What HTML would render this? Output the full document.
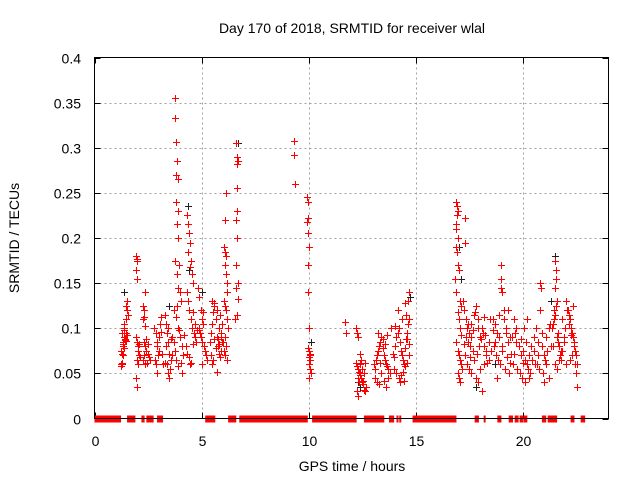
<!DOCTYPE html>
<html><head><meta charset="utf-8"><style>
html,body{margin:0;padding:0;background:#fff;}
svg{display:block;font-family:"Liberation Sans",sans-serif;}
</style></head><body>
<svg id="chart" width="640" height="480" viewBox="0 0 640 480">
<rect width="640" height="480" fill="#fff"/>
<text x="352" y="33" font-size="14" text-anchor="middle" fill="#000">Day 170 of 2018, SRMTID for receiver wlal</text>
<text x="352" y="471" font-size="14" text-anchor="middle" fill="#000">GPS time / hours</text>
<text transform="translate(19,238) rotate(-90)" font-size="14" text-anchor="middle" fill="#000">SRMTID / TECUs</text>
<g id="grid"></g><g id="ticks"></g><g id="zeros"></g><g id="black"></g><g id="red"></g>
<rect x="94.5" y="57.5" width="514" height="361" fill="none" stroke="#000" stroke-width="1"/>
</svg>
<script>
const xTicks=[0,5,10,15,20];
const yTicks=[0,0.05,0.1,0.15,0.2,0.25,0.3,0.35,0.4];
const yTickLabels=["0","0.05","0.1","0.15","0.2","0.25","0.3","0.35","0.4"];
const zeroStarts=[0,1.52,2.19,2.42,2.92,5.17,6.24,6.76,10.16,12.58,13.75,14.1,14.23,14.85,17.75,18.17,18.81,19.34,19.62,19.85,19.93,20.04,20.89,21.16,22.23,22.7];
const zeroEnds=[1.24,1.91,2.34,2.76,3.2,5.64,6.62,9.96,12.24,13.53,13.99,14.13,14.26,16.9,17.95,18.2,19.0,19.54,19.8,19.88,19.96,20.21,21.09,21.6,22.41,22.91];
const redX=[1.22,1.25,1.28,1.3,1.25,1.3,1.33,1.35,1.38,1.4,1.42,1.45,1.3,1.35,1.4,1.45,1.5,1.48,1.52,1.55,1.35,1.4,1.5,1.45,1.38,1.42,
1.95,1.97,2.0,1.96,1.98,2.0,2.05,2.08,1.92,2.0,2.02,2.1,2.12,2.05,2.0,1.95,
2.25,2.3,2.35,2.3,2.28,2.32,2.36,2.4,2.25,2.3,2.38,2.45,2.5,2.42,2.35,2.55,2.6,2.5,
2.8,2.85,2.9,2.95,2.82,2.88,2.92,3.0,3.05,3.1,3.0,2.9,3.15,3.2,3.1,
3.3,3.35,3.4,3.45,3.5,3.55,3.38,3.42,3.48,3.52,3.6,3.35,3.45,3.3,3.6,3.55,
3.75,3.76,3.8,3.85,3.82,3.88,3.8,3.9,3.86,3.92,3.78,3.95,3.85,3.9,4.0,4.05,3.72,3.82,3.88,3.95,4.0,4.1,4.15,3.75,3.8,3.9,4.05,4.1,3.7,3.85,
4.3,4.35,4.4,4.45,4.38,4.5,4.48,4.55,4.6,4.3,4.35,4.42,4.5,4.55,4.65,4.7,4.75,4.25,4.3,4.4,4.5,4.6,4.7,4.8,4.45,4.62,4.2,
4.85,4.9,4.95,5.0,5.05,4.88,4.92,4.98,5.02,5.1,5.15,5.2,5.25,5.0,4.9,5.08,
5.4,5.45,5.5,5.55,5.6,5.65,5.7,5.75,5.8,5.85,5.9,5.95,5.5,5.6,5.7,5.8,5.9,5.45,5.55,5.65,5.75,5.85,5.95,5.5,5.7,5.9,5.6,5.8,
6.05,6.1,6.12,6.15,6.1,6.08,6.12,6.18,6.2,6.05,6.1,6.15,6.2,6.25,6.1,6.15,6.0,6.05,6.1,6.2,
6.62,6.65,6.68,6.66,6.64,6.67,6.63,6.66,6.62,6.6,6.7,6.65,6.58,6.68,
9.32,9.33,9.34,
9.92,9.95,9.98,9.93,9.97,10.0,9.95,9.98,10.02,9.97,10.0,10.05,10.02,10.08,10.0,10.05,10.1,10.03,10.07,
11.7,11.72,
12.2,12.25,12.3,12.22,12.28,12.32,12.35,12.4,12.38,12.45,12.5,12.42,12.48,12.55,12.6,12.3,12.35,12.52,12.58,12.65,12.25,12.3,12.45,12.7,12.62,12.4,
13.05,13.1,13.15,13.2,13.25,13.3,13.35,13.4,13.45,13.5,13.55,13.6,13.65,13.7,13.1,13.2,13.3,13.4,13.5,13.6,13.7,13.8,13.85,13.25,13.45,13.65,13.35,13.55,
13.95,14.0,14.05,14.1,14.15,14.2,14.25,14.3,14.35,14.4,14.45,14.5,14.55,14.6,14.65,14.7,14.0,14.1,14.2,14.3,14.4,14.5,14.6,14.7,14.15,14.35,14.55,14.62,14.68,14.5,14.25,14.45,14.6,14.7,14.05,
16.9,16.92,16.95,16.93,16.88,16.9,16.95,16.87,16.92,16.98,17.0,16.85,16.9,17.05,17.1,16.95,17.0,17.05,17.1,16.9,16.95,17.0,17.05,17.1,17.15,16.95,17.02,17.08,
17.3,17.32,17.2,17.25,17.35,17.4,17.5,17.6,17.45,17.55,17.65,17.7,17.8,17.9,18.0,18.1,18.2,18.3,18.4,17.3,17.4,17.5,17.6,17.7,17.8,17.9,18.0,18.1,18.2,18.3,18.4,17.25,17.45,17.65,17.85,18.05,18.25,18.45,17.35,17.55,17.75,17.95,18.15,18.35,17.6,17.9,18.2,18.5,
18.6,18.7,18.8,18.9,19.0,19.1,19.2,19.3,19.4,18.65,18.75,18.85,18.95,19.05,19.15,19.25,19.35,19.45,19.0,18.98,19.02,18.9,19.1,19.2,19.3,18.7,18.8,19.4,19.05,18.6,
19.5,19.6,19.7,19.8,19.9,20.0,20.1,20.2,20.3,20.4,20.5,19.55,19.65,19.75,19.85,19.95,20.05,20.15,20.25,20.35,20.45,20.55,19.7,19.9,20.1,20.3,20.5,19.6,20.0,20.2,
20.6,20.7,20.8,20.85,20.9,21.0,21.1,21.2,21.3,20.65,20.75,20.95,21.05,21.15,21.25,20.8,21.0,21.2,20.7,20.9,21.1,
21.35,21.4,21.45,21.5,21.55,21.6,21.52,21.55,21.57,21.5,21.45,21.6,21.65,21.7,21.75,21.8,21.85,21.9,21.95,22.0,21.4,21.5,21.6,21.7,21.8,21.9,22.0,22.05,21.65,21.85,
22.1,22.15,22.2,22.25,22.3,22.35,22.4,22.45,22.5,22.55,22.2,22.3,22.4,22.5,22.15,22.35,22.45,22.55,22.25];
const redY=[.060,.058,.061,.060,.075,.072,.080,.085,.078,.090,.088,.095,.095,.082,.100,.110,.120,.125,.130,.115,.070,.105,.092,.086,.098,.087,
.180,.177,.175,.165,.155,.085,.080,.083,.045,.035,.075,.070,.068,.060,.065,.090,
.125,.12,.14,.112,.11,.085,.080,.075,.065,.070,.060,.062,.072,.088,.102,.068,.065,.082,
.100,.095,.080,.070,.065,.060,.050,.075,.105,.112,.090,.085,.072,.060,.096,
.115,.105,.095,.085,.072,.065,.060,.050,.045,.055,.070,.080,.100,.062,.090,.088,
.355,.333,.306,.285,.270,.265,.240,.230,.215,.200,.175,.170,.160,.145,.140,.130,.120,.112,.100,.098,.090,.080,.070,.075,.065,.058,.062,.050,.085,.125,
.225,.215,.205,.195,.185,.175,.168,.160,.150,.140,.130,.120,.110,.100,.095,.090,.085,.080,.072,.068,.062,.082,.105,.098,.060,.118,.092,
.145,.135,.120,.110,.105,.100,.095,.090,.085,.080,.075,.070,.065,.060,.098,.118,
.085,.095,.105,.118,.125,.110,.090,.080,.072,.068,.075,.085,.130,.128,.120,.100,.095,.070,.065,.078,.088,.115,.105,.060,.052,.090,.088,.082,
.190,.185,.180,.250,.220,.170,.160,.150,.140,.130,.125,.120,.110,.100,.090,.080,.085,.075,.070,.065,
.305,.290,.285,.282,.255,.230,.220,.200,.170,.145,.132,.115,.110,.150,
.307,.292,.260,
.245,.240,.222,.218,.205,.190,.170,.140,.100,.078,.075,.072,.068,.065,.060,.055,.050,.045,.070,
.107,.095,
.100,.095,.090,.062,.058,.055,.052,.050,.048,.045,.055,.060,.040,.042,.050,.045,.040,.038,.032,.030,.030,.025,.065,.035,.062,.072,
.060,.055,.065,.070,.075,.080,.085,.090,.078,.070,.065,.060,.058,.055,.045,.040,.038,.050,.042,.035,.045,.050,.100,.095,.088,.092,.062,.082,
.072,.068,.080,.090,.095,.100,.085,.075,.070,.065,.060,.078,.088,.095,.105,.110,.055,.050,.045,.048,.052,.058,.062,.070,.120,.110,.115,.130,.140,.128,.040,.042,.088,.082,.102,
.240,.235,.230,.225,.215,.210,.200,.190,.185,.170,.165,.155,.140,.130,.125,.118,.110,.100,.092,.085,.075,.070,.065,.060,.055,.050,.045,.040,
.222,.195,.130,.120,.110,.100,.095,.090,.085,.080,.075,.115,.125,.110,.090,.100,.080,.070,.065,.070,.060,.055,.050,.065,.045,.040,.055,.030,.060,.075,.085,.082,.105,.098,.072,.088,.092,.110,.090,.068,.118,.080,.095,.062,.105,.100,.112,.075,
.110,.105,.095,.090,.170,.120,.100,.085,.090,.080,.070,.065,.060,.075,.055,.068,.050,.072,.155,.145,.140,.115,.110,.095,.120,.085,.045,.062,.080,.098,
.090,.110,.085,.080,.070,.075,.065,.060,.070,.080,.075,.060,.095,.055,.050,.045,.100,.085,.055,.050,.065,.060,.100,.088,.040,.045,.090,.072,.062,.110,
.100,.085,.150,.145,.080,.070,.090,.100,.080,.060,.055,.050,.065,.075,.105,.120,.040,.045,.070,.095,.060,
.100,.105,.110,.115,.125,.130,.175,.165,.155,.145,.120,.090,.085,.080,.070,.065,.075,.090,.100,.130,.080,.060,.055,.065,.075,.085,.060,.120,.095,.110,
.120,.115,.110,.100,.095,.090,.080,.075,.070,.060,.065,.070,.085,.050,.105,.125,.060,.035,.092];
const blackX=[1.4,3.5,4.35,4.42,5.0,6.68,9.33,9.34,9.32,10.1,12.3,12.4,13.4,14.72,17.0,17.1,17.8,21.5,21.3,18.7];
const blackY=[.140,.125,.235,.165,.140,.305,.307,.260,.292,.085,.040,.035,.090,.135,.190,.155,.035,.180,.130,.060];

const NS='http://www.w3.org/2000/svg';
const L=94.5,R=608.5,T=57.5,B=418.5,XMAX=24,YMAX=0.4;
function sx(v){return L+(R-L)*v/XMAX;}
function sy(v){return B-(B-T)*v/YMAX;}
function mk(tag,attrs,parent){const e=document.createElementNS(NS,tag);for(const k in attrs)e.setAttribute(k,attrs[k]);parent.appendChild(e);return e;}
const grid=document.getElementById('grid'),ticks=document.getElementById('ticks');
xTicks.forEach((t,i)=>{
  const x=Math.round(sx(t))+0.5;
  if(t>0){const g=mk('line',{x1:x,x2:x,y1:T,y2:B,stroke:'#a0a0a0','stroke-dasharray':'2,3'},grid);
  
  }
  mk('line',{x1:x,x2:x,y1:B,y2:B-6,stroke:'#000'},ticks);
  mk('line',{x1:x,x2:x,y1:T,y2:T+6,stroke:'#000'},ticks);
  const lb=mk('text',{x:x,y:446,'font-size':14,'text-anchor':'middle',fill:'#000'},ticks);
  lb.textContent=String(t);
  
  
});
yTicks.forEach((t,i)=>{
  const y=Math.round(sy(t))+0.5;
  if(t>0&&t<YMAX){const g=mk('line',{x1:L,x2:R,y1:y,y2:y,stroke:'#a0a0a0','stroke-dasharray':'2,3'},grid);
  
  }
  mk('line',{x1:L,x2:L+6,y1:y,y2:y,stroke:'#000'},ticks);
  mk('line',{x1:R,x2:R-6,y1:y,y2:y,stroke:'#000'},ticks);
  const lb=mk('text',{x:81,y:y+5,'font-size':14,'text-anchor':'end',fill:'#000'},ticks);
  lb.textContent=yTickLabels[i];
  
  
});
const zg=document.getElementById('zeros');
for(let i=0;i<Math.min(zeroStarts.length,zeroEnds.length);i++){
  const x1=sx(zeroStarts[i]),x2=Math.max(sx(zeroEnds[i]),x1+2);
  const r=mk('rect',{x:x1,y:sy(0)-3,width:x2-x1,height:7,fill:'#ff0000'},zg);
  
  
}
function plus(x,y,col,parent,name){
  const px=Math.round(sx(x))+0.5,py=Math.round(sy(y))+0.5;
  const p=mk('path',{d:`M${px-3.5},${py}H${px+3.5}M${px},${py-3.5}V${py+3.5}`,stroke:col,'stroke-width':1,fill:'none'},parent);
  
  
}
const bg=document.getElementById('black');
for(let i=0;i<Math.min(blackX.length,blackY.length);i++)plus(blackX[i],blackY[i],'#202020',bg,'srmtid-point-alt');
const rg=document.getElementById('red');
for(let i=0;i<Math.min(redX.length,redY.length);i++)plus(redX[i],redY[i],'#ff0000',rg,'srmtid-point');
</script>
</body></html>
